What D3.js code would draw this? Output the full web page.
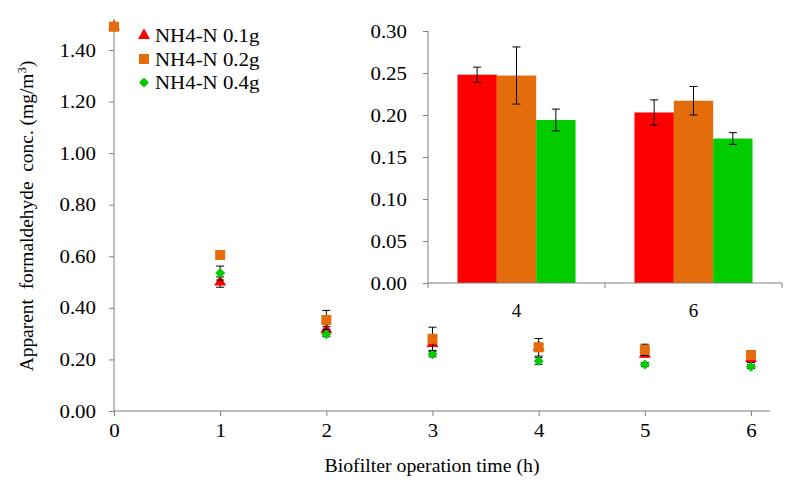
<!DOCTYPE html>
<html>
<head>
<meta charset="utf-8">
<script src="https://cdn.jsdelivr.net/npm/d3@7"></script>
<style>
  html, body { margin: 0; padding: 0; background: #fff; }
  svg { display: block; }
  svg text { font-family: "Liberation Serif", "Times New Roman", serif; fill: #000; }
</style>
</head>
<body>
<svg id="chart" width="808" height="484"></svg>
<script>
// ---- Data ----
const times = [0, 1, 2, 3, 4, 5, 6];
const seriesNames = ["NH4-N 0.1g", "NH4-N 0.2g", "NH4-N 0.4g"];
const seriesColors = ["#FF0000", "#E46C0A", "#00CC00"];
const seriesShapes = ["triangle", "square", "diamond"];
const conc01 = [1.49, 0.50, 0.315, 0.262, 0.248, 0.220, 0.203];
const conc02 = [1.49, 0.605, 0.353, 0.280, 0.247, 0.237, 0.217];
const conc04 = [1.49, 0.535, 0.298, 0.220, 0.194, 0.180, 0.172];
const err01 = [0, 0.020, 0.012, 0.010, 0.009, 0.010, 0.015];
const err02 = [0, 0.010, 0.037, 0.045, 0.034, 0.022, 0.017];
const err04 = [0, 0.027, 0.010, 0.010, 0.013, 0.008, 0.007];
const yTicksMain = [0, 0.2, 0.4, 0.6, 0.8, 1.0, 1.2, 1.4];

// Inset
const insetCats = ["4", "6"];
const inset01 = [0.248, 0.203];
const inset02 = [0.247, 0.217];
const inset04 = [0.194, 0.172];
const insetErr01 = [0.009, 0.015];
const insetErr02 = [0.034, 0.017];
const insetErr04 = [0.013, 0.007];
const yTicksInset = [0, 0.05, 0.10, 0.15, 0.20, 0.25, 0.30];

const mainVals = [conc01, conc02, conc04];
const mainErrs = [err01, err02, err04];
const insetVals = [inset01, inset02, inset04];
const insetErrs = [insetErr01, insetErr02, insetErr04];
const drawOrder = [0, 2, 1]; // red, green, then orange on top

const svg = d3.select("#chart");
const axisColor = "#808080";
const fontSize = 19;
const stretch = 1.1;

function styleTickText(sel) {
  sel.attr("fill", "#000").attr("font-family", null).attr("font-size", null)
    .style("font-size", fontSize + "px")
    .style("font-family", "'Liberation Serif', 'Times New Roman', serif");
}

// ---- Main scales ----
const x = d3.scaleLinear().domain([0, 6]).range([114, 751]);
const y = d3.scaleLinear().domain([0, 1.4]).range([411, 50]);

const main = svg.append("g");

// y axis
const yAxis = d3.axisLeft(y).tickValues(yTicksMain).tickFormat(d3.format(".2f")).tickSize(5).tickPadding(13);
const gy = main.append("g").attr("transform", `translate(${x(0)},0)`).call(yAxis);
gy.attr("font-family", null).attr("font-size", null);
gy.select(".domain").remove();
gy.append("line").attr("x1", 0).attr("x2", 0).attr("y1", y(0)).attr("y2", y(1.52)).attr("stroke", axisColor);
gy.selectAll(".tick line").attr("stroke", axisColor);
styleTickText(gy.selectAll(".tick text"));

// x axis
const xAxis = d3.axisBottom(x).tickValues(times).tickFormat(d3.format("d")).tickSize(5).tickPadding(8);
const gx = main.append("g").attr("transform", `translate(0,${y(0)})`).call(xAxis);
gx.attr("font-family", null).attr("font-size", null);
gx.select(".domain").remove();
gx.append("line").attr("x1", x(0)).attr("x2", x(6.18)).attr("y1", 0).attr("y2", 0).attr("stroke", axisColor);
gx.selectAll(".tick line").attr("stroke", axisColor);
styleTickText(gx.selectAll(".tick text"));

// axis titles
main.append("text").attr("class", "stretch").attr("x", 432).attr("y", 472).attr("text-anchor", "middle")
  .style("font-size", "18px").text("Biofilter operation time (h)");
const yt = main.append("text").attr("transform", "translate(33,216) rotate(-90) scale(1.08,1)").attr("text-anchor", "middle")
  .style("font-size", "18px").attr("xml:space", "preserve");
yt.append("tspan").text("Apparent  formaldehyde  conc. (mg/m");
yt.append("tspan").attr("dy", -7).style("font-size", "12px").text("3");
yt.append("tspan").attr("dy", 7).text(")");

// markers
function symbolFor(shape) {
  if (shape === "triangle") return d3.symbol().type(d3.symbolTriangle).size(62)();
  if (shape === "square") return d3.symbol().type(d3.symbolSquare).size(100)();
  return "M0,-5L5,0L0,5L-5,0Z";
}

drawOrder.forEach((si) => {
  const vals = mainVals[si];
  const g = main.append("g");
  const errs = mainErrs[si];
  times.forEach((t, i) => {
    if (errs[i] > 0) {
      const y1 = y(vals[i] + errs[i]), y2 = y(vals[i] - errs[i]);
      g.append("line").attr("x1", x(t)).attr("x2", x(t)).attr("y1", y1).attr("y2", y2).attr("stroke", "#000");
      g.append("line").attr("x1", x(t) - 4).attr("x2", x(t) + 4).attr("y1", y1).attr("y2", y1).attr("stroke", "#000");
      g.append("line").attr("x1", x(t) - 4).attr("x2", x(t) + 4).attr("y1", y2).attr("y2", y2).attr("stroke", "#000");
    }
  });
  g.selectAll("path.pt").data(times).enter().append("path")
    .attr("transform", (t, i) => `translate(${x(t)},${y(vals[i])})`)
    .attr("d", symbolFor(seriesShapes[si]))
    .attr("fill", seriesColors[si]);
});

// legend
const legend = svg.append("g");
seriesNames.forEach((name, i) => {
  const ly = 35.5 + i * 23.5;
  legend.append("path").attr("transform", `translate(144,${ly})`).attr("d", symbolFor(seriesShapes[i]))
    .attr("fill", seriesColors[i]);
  legend.append("text").attr("class", "stretch").attr("x", 155).attr("y", ly + 6.5)
    .style("font-size", fontSize + "px").text(name);
});

// ---- Inset ----
const inset = svg.append("g");
const xi = d3.scaleBand().domain(insetCats).range([428, 782]);
const groupW = xi.bandwidth() * 0.667;
const xs = d3.scaleBand().domain(d3.range(seriesNames.length)).range([0, groupW]);
const yi = d3.scaleLinear().domain([0, 0.3]).range([283, 31]);

const yAxI = d3.axisLeft(yi).tickValues(yTicksInset).tickFormat(d3.format(".2f")).tickSize(5).tickPadding(16);
const gyi = inset.append("g").attr("transform", `translate(428,0)`).call(yAxI);
gyi.attr("font-family", null).attr("font-size", null);
gyi.select(".domain").attr("stroke", axisColor).attr("d", `M0,${yi(0)}V${yi(0.3)}`);
gyi.selectAll(".tick line").attr("stroke", axisColor);
styleTickText(gyi.selectAll(".tick text"));

// bars
insetVals.forEach((vals, si) => {
  inset.selectAll(null).data(insetCats).enter().append("rect")
    .attr("x", (c) => xi(c) + (xi.bandwidth() - groupW) / 2 + xs(si))
    .attr("width", xs.bandwidth())
    .attr("y", (c, i) => yi(vals[i]))
    .attr("height", (c, i) => yi(0) - yi(vals[i]))
    .attr("fill", seriesColors[si]);
});
// error bars
insetVals.forEach((vals, si) => {
  insetCats.forEach((c, i) => {
    const cx = xi(c) + (xi.bandwidth() - groupW) / 2 + xs(si) + xs.bandwidth() / 2;
    const e = insetErrs[si][i];
    const y1 = yi(vals[i] + e), y2 = yi(vals[i] - e);
    inset.append("line").attr("x1", cx).attr("x2", cx).attr("y1", y1).attr("y2", y2).attr("stroke", "#000");
    inset.append("line").attr("x1", cx - 4).attr("x2", cx + 4).attr("y1", y1).attr("y2", y1).attr("stroke", "#000");
    inset.append("line").attr("x1", cx - 4).attr("x2", cx + 4).attr("y1", y2).attr("y2", y2).attr("stroke", "#000");
  });
});

// inset x axis
const gxi = inset.append("g").attr("transform", `translate(0,${yi(0)})`);
gxi.append("line").attr("x1", 428).attr("x2", 782).attr("y1", 0).attr("y2", 0).attr("stroke", axisColor);
[428, ...insetCats.map(c => xi(c) + xi.bandwidth())].forEach(px => {
  gxi.append("line").attr("x1", px).attr("x2", px).attr("y1", 0).attr("y2", 5).attr("stroke", axisColor);
});
gxi.selectAll("text.cat").data(insetCats).enter().append("text")
  .attr("x", c => xi(c) + xi.bandwidth() / 2).attr("y", 34).attr("text-anchor", "middle")
  .style("font-size", fontSize + "px").text(c => c);

// horizontal stretch of serif text to match the reference's wide glyphs
svg.selectAll(".tick text, text.stretch").each(function () {
  const w = this.getComputedTextLength();
  if (w > 0) d3.select(this).attr("textLength", w * stretch).attr("lengthAdjust", "spacingAndGlyphs");
});
</script>
</body>
</html>
